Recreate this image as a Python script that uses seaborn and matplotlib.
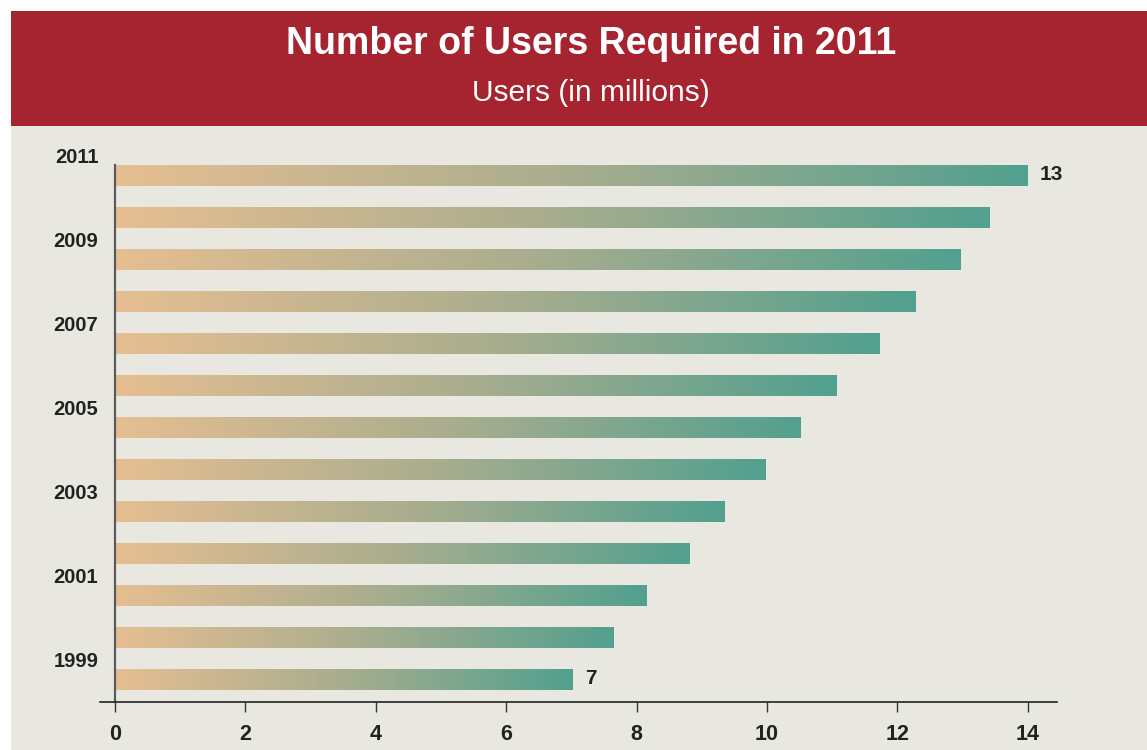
import numpy as np
import pandas as pd
import seaborn as sns
import matplotlib.pyplot as plt
from matplotlib.patches import Rectangle
from matplotlib.colors import LinearSegmentedColormap

# Data: users (in millions) per year
years = ["2011", "2010", "2009", "2008", "2007", "2006", "2005",
         "2004", "2003", "2002", "2001", "2000", "1999"]
users = [13.99, 13.42, 12.97, 12.28, 11.73, 11.07, 10.52,
         9.98, 9.35, 8.82, 8.16, 7.64, 7.02]
labelled_years = ["2011", "1999"]
year_tick_labels = ["2011", "2009", "2007", "2005", "2003", "2001", "1999"]
x_ticks = [0, 2, 4, 6, 8, 10, 12, 14]

title = "Number of Users Required in 2011"
subtitle = "Users (in millions)"

df = pd.DataFrame({"year": years, "users": users})

sns.set_theme(style="white")
plt.rcParams["font.family"] = ["Liberation Sans", "DejaVu Sans"]
plt.rcParams["font.weight"] = "bold"
plt.rcParams["xtick.labelsize"] = 15.5
plt.rcParams["ytick.labelsize"] = 14.5
plt.rcParams["xtick.color"] = "#333333"
plt.rcParams["xtick.labelcolor"] = "#222222"
plt.rcParams["ytick.labelcolor"] = "#222222"

W, H, DPI = 1147, 750, 100
fig = plt.figure(figsize=(W / DPI, H / DPI), dpi=DPI, facecolor="white")

# Page background and header band
fig.patches.append(Rectangle((11 / W, 0), 1 - 11 / W, 1 - 126 / H,
                             transform=fig.transFigure, facecolor="#E9E8E0",
                             edgecolor="none", zorder=-2))
fig.patches.append(Rectangle((11 / W, 1 - 126 / H), 1 - 11 / W, 115 / H,
                             transform=fig.transFigure, facecolor="#A62330",
                             edgecolor="none", zorder=-2))
fig.text(591 / W, 1 - 44 / H, title, ha="center", va="center",
         color="white", fontsize=27, fontweight="bold")
fig.text(591 / W, 1 - 93 / H, subtitle, ha="center", va="center",
         color="white", fontsize=21.5, fontweight="normal")

# Axes: bottom spine at 702 px, top of view at ~151 px
ax = fig.add_axes([100 / W, 48 / H, (1057 - 100) / W, (702 - 150.7) / H])
ax.set_facecolor("none")
ax.set_zorder(1)

sns.barplot(data=df, x="users", y="year", order=years, orient="h",
            width=0.48, color="#52A08F", ax=ax)

# Left-to-right gradient on each bar
cmap = LinearSegmentedColormap.from_list("tan_teal", ["#E6BE92", "#A8AD8E", "#52A08F"])
grad = np.linspace(0, 1, 256).reshape(1, -1)
for patch, year, val in zip(ax.patches, years, users):
    x0, y0 = patch.get_x(), patch.get_y()
    w, h = patch.get_width(), patch.get_height()
    patch.set_facecolor("none")
    patch.set_edgecolor("none")
    ax.imshow(grad, cmap=cmap, extent=[x0, x0 + w, y0 + h, y0],
              aspect="auto", interpolation="bicubic", zorder=2)
    if year in labelled_years:
        ax.annotate(f"{int(val)}", xy=(x0 + w, y0 + h / 2),
                    xytext=(9, 1), textcoords="offset points",
                    ha="left", va="center", fontsize=15, fontweight="bold",
                    color="#222222")

# Year labels sit between bar rows
pos = {y: i for i, y in enumerate(years)}
ax.set_yticks([pos[y] - 0.48 for y in year_tick_labels])
ax.set_yticklabels(year_tick_labels)
ax.tick_params(axis="y", length=0, pad=12)

ax.set_xticks(x_ticks)
ax.set_xticklabels([str(t) for t in x_ticks])
ax.tick_params(axis="x", direction="out", length=7, width=1.0,
               pad=9, bottom=True)

ax.set_xlim(-0.23, 14.45)
ax.set_ylim(12.524, -0.6)

ax.set_xlabel("")
ax.set_ylabel("")
for side in ["top", "right"]:
    ax.spines[side].set_visible(False)
ax.spines["left"].set_position(("data", 0))
ax.spines["left"].set_bounds(12.524, -0.26)
ax.spines["left"].set_color("#5A5A5A")
ax.spines["left"].set_linewidth(1.6)
ax.spines["bottom"].set_color("#222222")
ax.spines["bottom"].set_linewidth(1.2)

fig.savefig("out.png", dpi=DPI, facecolor="white")
